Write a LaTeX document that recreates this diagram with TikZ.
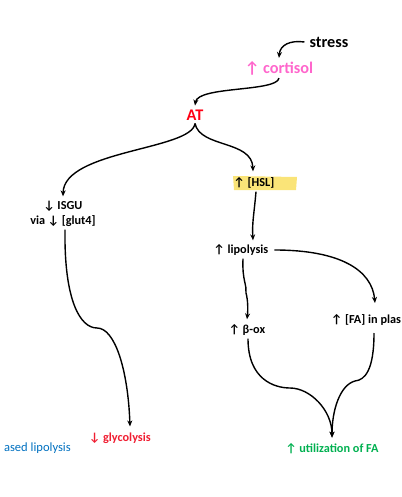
\documentclass[tikz,border=0pt]{standalone}
\usepackage{fontspec}
\setmainfont{Carlito}
\usetikzlibrary{arrows.meta,positioning}
\definecolor{orchid}{RGB}{255,102,204}
\definecolor{scarlet}{RGB}{255,0,20}
\definecolor{crimson}{RGB}{240,30,50}
\definecolor{jade}{RGB}{0,176,80}
\definecolor{azure}{RGB}{0,112,192}
\definecolor{marker}{RGB}{250,228,120}
\tikzset{flow/.style={-{Stealth[length=6pt,width=5pt]},line width=1.4pt,black}}
\tikzset{term/.style={font=\bfseries\fontsize{12.3}{14.5}\selectfont,inner sep=1pt,align=center}}
\tikzset{big/.style={font=\bfseries\fontsize{16.3}{18}\selectfont,inner sep=1pt}}

\begin{document}
\begin{tikzpicture}[x=1bp,y=-1bp]
	\useasboundingbox (0,0) rectangle (401,497);
	\fill[marker] (233,176) -- (297,177) -- (296,190) -- (234,190) -- cycle;
	\node[big] (stress) at (329,42) {stress};
	\node[big,orchid] (cortisol) at (279,68) {↑ cortisol};
	\node[big,scarlet] (AT) at (195,115) {AT};
	\node[term] (ISGU) at (63,214) {↓ ISGU\\via ↓ [glut4]};
	\node[term] (HSL) at (254,183) {↑ [HSL]};
	\node[term] (lipolysis) at (241,250) {↑ lipolysis};
	\node[term] (box) at (247,330) {↑ β-ox};
	\node[term,anchor=west] (FA) at (330,320) {↑ [FA] in plas};
	\node[term,crimson] (glycolysis) at (120,438) {↓ glycolysis};
	\node[term,jade] (utilization) at (332,449) {↑ utilization of FA};
	\node[font=\fontsize{12.6}{15}\selectfont,azure,anchor=east,inner sep=0pt] (lipo) at (71,448) {ased lipolysis};
	\draw[flow] ([xshift=-4bp]stress.west) .. controls (290,40) and (280,45) .. ([yshift=2bp]cortisol.north);
	\draw[flow] ([yshift=-2bp]cortisol.south) .. controls (277,92) and (198,86) .. ([yshift=3bp]AT.north);
	\draw[flow] ([yshift=-2bp]AT.south) .. controls (192,150) and (64,150) .. ([yshift=4bp]ISGU.north);
	\draw[flow] ([yshift=-2bp]AT.south) .. controls (200,148) and (252,140) .. ([xshift=-1bp,yshift=5bp]HSL.north);
	\draw[flow] ([xshift=2bp,yshift=-2bp]HSL.south) .. controls (254,215) and (252,222) .. ([xshift=12bp,yshift=3bp]lipolysis.north);
	\draw[flow] ([xshift=2bp,yshift=-2bp]ISGU.south) .. controls (64,300) and (80,328) .. (97,328) .. controls (115,328) and (128,370) .. ([xshift=10bp,yshift=5bp]glycolysis.north);
	\draw[flow] ([xshift=2bp,yshift=-2bp]lipolysis.south) .. controls (242,280) and (247,285) .. (246,293) .. controls (248,300) and (248,310) .. ([yshift=4bp]box.north);
	\draw[flow] ([xshift=5bp]lipolysis.east) .. controls (340,250) and (372,270) .. (375,303);
	\draw[flow] ([xshift=1bp,yshift=-2bp]box.south) .. controls (248,380) and (275,388) .. (290,388) .. controls (310,388) and (332,410) .. ([yshift=5bp]utilization.north);
	\draw[flow] (374,333) .. controls (374,370) and (365,380) .. (355,381) .. controls (340,385) and (332,410) .. ([yshift=5bp]utilization.north);
\end{tikzpicture}
\end{document}
